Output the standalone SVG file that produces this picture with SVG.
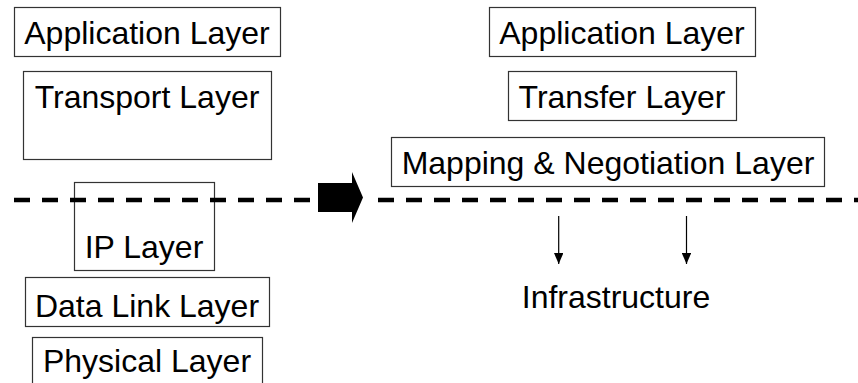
<svg xmlns="http://www.w3.org/2000/svg" width="858" height="383" viewBox="0 0 858 383">
  <style>
    .box { fill: #ffffff; stroke: #333333; stroke-width: 1.2; }
    .lbl { font-family: "Liberation Sans", Arial, sans-serif; font-size: 32px; fill: #000000; text-anchor: middle; }
    .dash { stroke: #000000; stroke-width: 4.6; stroke-dasharray: 16 12; fill: none; }
    .down { stroke: #000000; stroke-width: 1.2; fill: none; marker-end: url(#tri); }
  </style>
  <defs>
    <!-- small filled arrowhead, tip at the line end -->
    <marker id="tri" markerWidth="11" markerHeight="9.4" refX="11" refY="4.7" orient="auto" markerUnits="userSpaceOnUse" viewBox="0 0 11 9.4">
      <path d="M0,0 L11,4.7 L0,9.4 Z" fill="#000000"/>
    </marker>
  </defs>

  <!-- Internet stack (left) -->
  <g id="app-left">
    <rect class="box" x="14.5" y="7.5" width="266" height="49"/>
    <text class="lbl" x="147" y="44">Application Layer</text>
  </g>
  <g id="transport">
    <rect class="box" x="23.5" y="71.5" width="248" height="88"/>
    <text class="lbl" x="147" y="108">Transport Layer</text>
  </g>

  <!-- Proposed stack (right) -->
  <g id="app-right">
    <rect class="box" x="489.5" y="7.5" width="266" height="49"/>
    <text class="lbl" x="622" y="44">Application Layer</text>
  </g>
  <g id="transfer">
    <rect class="box" x="508.5" y="71.5" width="228" height="49"/>
    <text class="lbl" x="622" y="108">Transfer Layer</text>
  </g>
  <g id="mapping">
    <rect class="box" x="391.5" y="137.5" width="433" height="49"/>
    <text class="lbl" x="608" y="174">Mapping &amp; Negotiation Layer</text>
  </g>

  <!-- Lower left stack -->
  <g id="ip">
    <rect class="box" x="74.5" y="182.5" width="140" height="88"/>
    <text class="lbl" x="144" y="258">IP Layer</text>
  </g>
  <g id="datalink">
    <rect class="box" x="25.5" y="277.5" width="244" height="49"/>
    <text class="lbl" x="147" y="317">Data Link Layer</text>
  </g>
  <g id="physical">
    <rect class="box" x="32.5" y="337.5" width="230" height="60"/>
    <text class="lbl" x="147" y="372">Physical Layer</text>
  </g>

  <g id="infrastructure">
    <text class="lbl" x="616" y="308">Infrastructure</text>
  </g>

  <!-- Connectors: boundary line, transition arrow, downward arrows -->
  <g id="connectors">
    <line class="dash" x1="14" y1="200" x2="310" y2="200"/>
    <line class="dash" x1="378" y1="200" x2="858" y2="200"/>
    <polygon points="318,183 352,183 352,172 363,197.5 352,223 352,212 318,212" fill="#000000"/>
    <line class="down" x1="558.7" y1="216" x2="558.7" y2="264"/>
    <line class="down" x1="686.5" y1="216" x2="686.5" y2="264"/>
  </g>
</svg>
